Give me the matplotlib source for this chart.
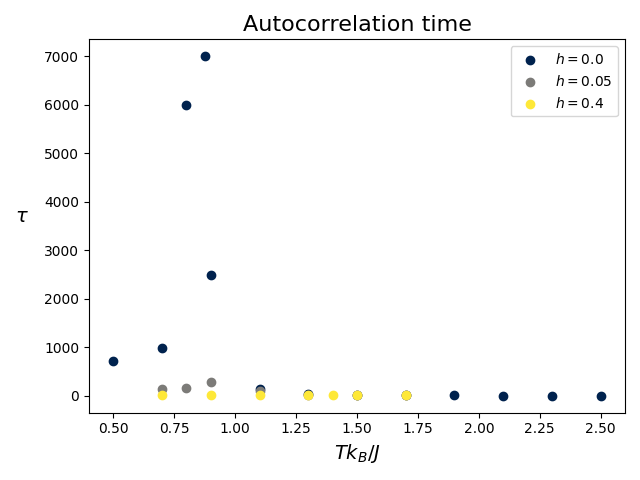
import matplotlib
matplotlib.use("Agg")
import matplotlib.pyplot as plt

# h = 0.0
T_h0 = [0.5, 0.7, 0.8, 0.875, 0.9, 1.1, 1.3, 1.5, 1.7, 1.9, 2.1, 2.3, 2.5]
tau_h0 = [720, 990, 6000, 7000, 2500, 140, 40, 15, 10, 10, 0, 0, 0]

# h = 0.05
T_h005 = [0.7, 0.8, 0.9, 1.1, 1.3, 1.5, 1.7]
tau_h005 = [140, 160, 280, 90, 25, 10, 8]

# h = 0.4
T_h04 = [0.7, 0.9, 1.1, 1.3, 1.4, 1.5, 1.7]
tau_h04 = [15, 15, 15, 15, 15, 15, 10]

fig, ax = plt.subplots(figsize=(6.4, 4.8), dpi=100)
ax.scatter(T_h0, tau_h0, color="#00224e", label=r"$h=0.0$")
ax.scatter(T_h005, tau_h005, color="#7c7b78", label=r"$h=0.05$")
ax.scatter(T_h04, tau_h04, color="#fee838", label=r"$h=0.4$")

ax.set_title("Autocorrelation time", fontsize=16)
ax.set_xlabel(r"$Tk_B/J$", fontsize=14)
ax.set_ylabel(r"$\tau$", fontsize=14, rotation=0, labelpad=16)
ax.legend(loc="upper right")
fig.tight_layout()
fig.savefig("out.png")
